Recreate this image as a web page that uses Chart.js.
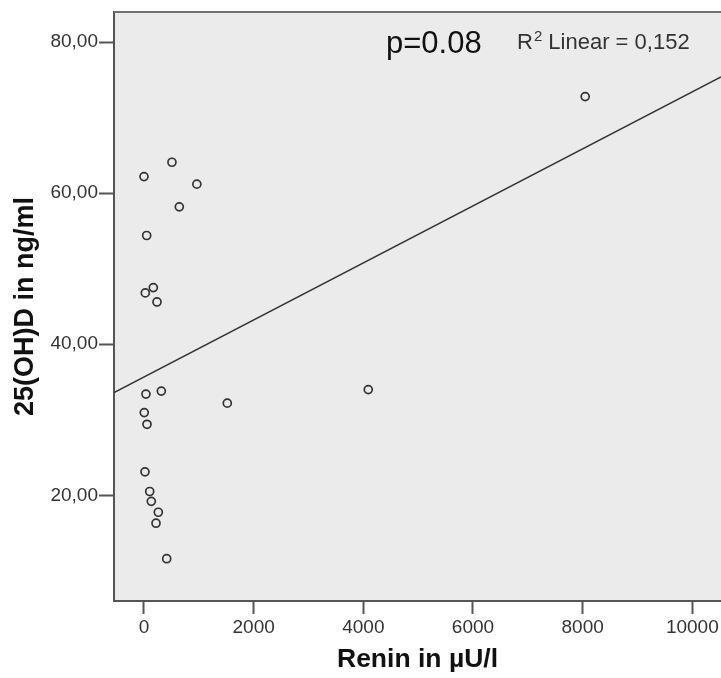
<!DOCTYPE html>
<html>
<head>
<meta charset="utf-8">
<script src="https://cdn.jsdelivr.net/npm/chart.js@4"></script>
<style>
  html, body { margin: 0; padding: 0; background: #ffffff; }
  #c { display: block; }
</style>
</head>
<body>
<canvas id="c" width="721" height="678"></canvas>
<script>
// ---- data ----
const reninValues = [0, 510, 964, 644, 49, 24, 170, 237, 8046, 36, 316, 1519, 5, 55, 18, 104, 133, 261, 219, 414, 4090];
const vitDValues  = [62.2, 64.1, 61.2, 58.2, 54.4, 46.8, 47.5, 45.6, 72.8, 33.4, 33.8, 32.2, 30.95, 29.4, 23.1, 20.5, 19.2, 17.75, 16.3, 11.6, 34.0];
const fitLineX = [-547, 10523];
const fitLineY = [33.6, 75.4];
const xTickValues = [0, 2000, 4000, 6000, 8000, 10000];
const xTickLabels = ["0", "2000", "4000", "6000", "8000", "10000"];
const yTickValues = [20, 40, 60, 80];
const yTickLabels = ["20,00", "40,00", "60,00", "80,00"];
const xRange = [-547, 10523];
const yRange = [6, 84];
const xTitle = "Renin in \u00b5U/l";
const yTitle = "25(OH)D in ng/ml";
const pText = "p=0.08";
const r2Label = "R";
const r2Sup = "2";
const r2Rest = " Linear = 0,152";

const FONT = "'Liberation Sans', Arial, Helvetica, sans-serif";

const scatterData = reninValues.map((x, i) => ({ x: x, y: vitDValues[i] }));
const fitData = fitLineX.map((x, i) => ({ x: x, y: fitLineY[i] }));

const bgPlugin = {
  id: 'plotBg',
  beforeDraw(chart) {
    const { ctx, chartArea: a } = chart;
    ctx.save();
    ctx.fillStyle = '#ebebeb';
    ctx.fillRect(a.left, a.top, a.right - a.left, a.bottom - a.top);
    ctx.restore();
  },
  afterDraw(chart) {
    const { ctx, chartArea: a } = chart;
    ctx.save();
    // top border
    ctx.strokeStyle = '#707070';
    ctx.lineWidth = 2;
    ctx.beginPath();
    ctx.moveTo(a.left, a.top);
    ctx.lineTo(a.right, a.top);
    ctx.stroke();
    // annotations
    ctx.fillStyle = '#111111';
    ctx.textBaseline = 'alphabetic';
    ctx.textAlign = 'left';
    ctx.font = '31px ' + FONT;
    ctx.fillText(pText, 386, 53);
    ctx.fillStyle = '#333333';
    ctx.font = '22px ' + FONT;
    let x = 517;
    ctx.fillText(r2Label, x, 49);
    x += ctx.measureText(r2Label).width + 1;
    ctx.font = '15px ' + FONT;
    ctx.fillText(r2Sup, x, 41);
    x += ctx.measureText(r2Sup).width;
    ctx.font = '22px ' + FONT;
    ctx.fillText(r2Rest, x, 49);
    ctx.restore();
  }
};

new Chart(document.getElementById('c'), {
  data: {
    datasets: [
      {
        type: 'scatter',
        data: scatterData,
        pointStyle: 'circle',
        pointRadius: 4,
        pointBorderWidth: 1.7,
        pointBorderColor: '#333333',
        pointBackgroundColor: 'rgba(0,0,0,0)',
        showLine: false,
        order: 1
      },
      {
        type: 'line',
        data: fitData,
        borderColor: '#333333',
        borderWidth: 1.5,
        pointRadius: 0,
        fill: false,
        tension: 0,
        order: 2
      }
    ]
  },
  options: {
    responsive: false,
    animation: false,
    events: [],
    layout: { autoPadding: false, padding: { top: 12, right: 0, bottom: 0, left: 0 } },
    plugins: {
      legend: { display: false },
      tooltip: { enabled: false }
    },
    scales: {
      x: {
        type: 'linear',
        position: 'bottom',
        min: xRange[0],
        max: xRange[1],
        afterBuildTicks(axis) { axis.ticks = xTickValues.map(v => ({ value: v })); },
        afterFit(axis) { axis.height = 77; axis.paddingLeft = 0; axis.paddingRight = 0; },
        ticks: {
          callback(v) { const i = xTickValues.indexOf(v); return i >= 0 ? xTickLabels[i] : ''; },
          color: '#333333',
          font: { family: FONT, size: 19 },
          padding: 2,
          maxRotation: 0
        },
        grid: {
          drawOnChartArea: false,
          drawTicks: true,
          tickLength: 13,
          tickColor: '#555555',
          tickWidth: 2
        },
        border: { display: true, color: '#555555', width: 2 },
        title: {
          display: true,
          text: xTitle,
          color: '#111111',
          font: { family: FONT, size: 26.5, weight: 'bold' },
          padding: { top: 0, bottom: 2 }
        }
      },
      y: {
        type: 'linear',
        position: 'left',
        min: yRange[0],
        max: yRange[1],
        afterBuildTicks(axis) { axis.ticks = yTickValues.map(v => ({ value: v })); },
        afterFit(axis) { axis.width = 114; axis.paddingTop = 0; axis.paddingBottom = 0; },
        ticks: {
          callback(v) { const i = yTickValues.indexOf(v); return i >= 0 ? yTickLabels[i] : ''; },
          color: '#333333',
          font: { family: FONT, size: 19 },
          padding: 1
        },
        grid: {
          drawOnChartArea: false,
          drawTicks: true,
          tickLength: 15,
          tickColor: '#555555',
          tickWidth: 2
        },
        border: { display: true, color: '#555555', width: 2 },
        title: {
          display: true,
          text: yTitle,
          color: '#111111',
          font: { family: FONT, size: 27, weight: 'bold' },
          padding: { top: 9, bottom: 0 }
        }
      }
    }
  },
  plugins: [bgPlugin]
});
</script>
</body>
</html>
